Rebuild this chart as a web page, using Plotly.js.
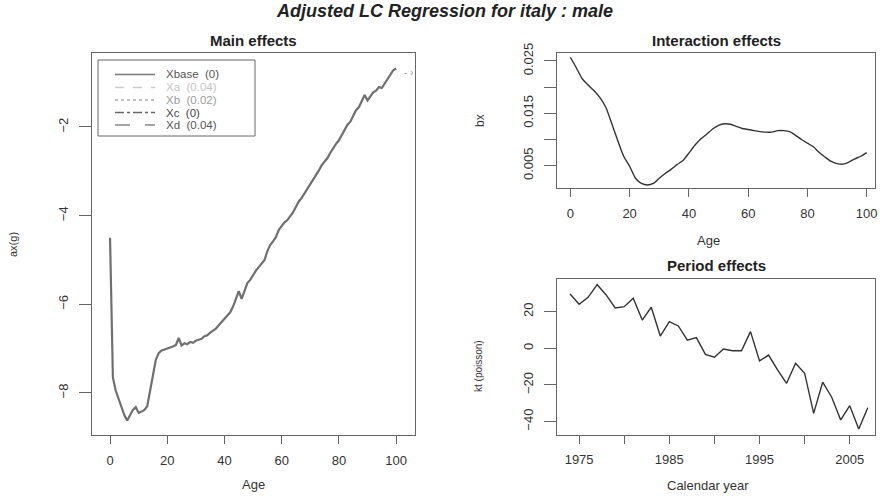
<!DOCTYPE html>
<html>
<head>
<meta charset="utf-8">
<script src="https://cdn.plot.ly/plotly-3.0.1.min.js"></script>
<style>html,body{margin:0;padding:0;background:#fff;}#chart{width:888px;height:496px;}</style>
</head>
<body>
<div id="chart"></div>
<script>
// ---------- data ----------
const ages = [];
for (let a = 0; a <= 100; a++) ages.push(a);
const ax = [-4.50,-7.65,-7.95,-8.15,-8.35,-8.50,-8.62,-8.50,-8.38,-8.32,
  -8.45,-8.42,-8.38,-8.30,-7.95,-7.55,-7.25,-7.10,-7.04,-7.02,
  -7.00,-6.98,-6.95,-6.92,-6.76,-6.93,-6.88,-6.90,-6.85,-6.87,
  -6.82,-6.80,-6.78,-6.72,-6.70,-6.64,-6.60,-6.55,-6.47,-6.40,
  -6.32,-6.26,-6.18,-6.05,-5.85,-5.70,-5.88,-5.70,-5.52,-5.45,
  -5.33,-5.24,-5.16,-5.08,-5.00,-4.80,-4.66,-4.58,-4.48,-4.32,
  -4.24,-4.15,-4.10,-4.02,-3.92,-3.80,-3.68,-3.60,-3.50,-3.40,
  -3.30,-3.18,-3.08,-2.98,-2.86,-2.78,-2.70,-2.58,-2.47,-2.38,
  -2.30,-2.18,-2.05,-1.95,-1.88,-1.75,-1.62,-1.55,-1.42,-1.28,
  -1.40,-1.30,-1.22,-1.18,-1.10,-1.12,-1.02,-0.95,-0.85,-0.72,-0.68];

const bxAges = [0,2,4,6,8,10,12,14,16,18,20,22,24,26,28,30,32,34,36,38,40,42,44,46,48,50,
  52,54,56,58,60,62,64,66,68,70,72,74,76,78,80,82,84,86,88,90,92,94,96,98,100];
const bx = [0.0257,0.0237,0.0216,0.0204,0.0193,0.0180,0.0161,0.0130,0.0098,0.0068,
  0.0049,0.0026,0.0016,0.0013,0.0016,0.0026,0.0035,0.0043,0.0052,0.0060,
  0.0074,0.0089,0.0101,0.0110,0.0120,0.0127,0.0130,0.0129,0.0125,0.0121,
  0.0119,0.0117,0.0115,0.0114,0.0114,0.0117,0.0117,0.0115,0.0108,0.0100,
  0.0093,0.0086,0.0075,0.0066,0.0058,0.0054,0.0053,0.0057,0.0063,0.0068,0.0075];

const years = [1974,1975,1976,1977,1978,1979,1980,1981,1982,1983,1984,1985,1986,1987,1988,1989,1990,
  1991,1992,1993,1994,1995,1996,1997,1998,1999,2000,2001,2002,2003,2004,2005,2006,2007];
const kt = [29.6,24.0,27.8,34.7,29.1,22.0,22.7,27.3,15.4,22.4,6.7,14.5,12.2,4.4,5.8,-3.3,-4.9,
  -0.4,-1.3,-1.3,9.1,-6.9,-3.7,-11.8,-19.1,-8.2,-13.6,-35.5,-18.5,-26.7,-39.1,-31.3,-44.0,-32.4];

const legendLabels = ["Xbase  (0)","Xa  (0.04)","Xb  (0.02)","Xc  (0)","Xd  (0.04)"];
const ageTicks = [0,20,40,60,80,100];
const axTicks = [-8,-6,-4,-2];
const bxTicks = [0.005,0.010,0.015,0.020,0.025];
const bxTickText = ["0.005","","0.015","","0.025"];
const ktTicks = [-40,-20,0,20];
const yearTicks = [1975,1980,1985,1990,1995,2000,2005];
const yearTickText = ["1975","","1985","","1995","","2005"];

// ---------- layout helpers ----------
const W = 888, H = 496;
const px = x => x / W;
const py = y => 1 - y / H;
const FONT = "Liberation Sans, Arial, Helvetica, sans-serif";

const traces = [
  {x: ages, y: ax, type: "scatter", mode: "lines", xaxis: "x", yaxis: "y",
   line: {color: "#6f6f6f", width: 2.2}, hoverinfo: "skip"},
  {x: bxAges, y: bx, type: "scatter", mode: "lines", xaxis: "x2", yaxis: "y2",
   line: {color: "#333", width: 1.4, shape: "spline", smoothing: 0.6}, hoverinfo: "skip"},
  {x: years, y: kt, type: "scatter", mode: "lines", xaxis: "x3", yaxis: "y3",
   line: {color: "#333", width: 1.4}, hoverinfo: "skip"}
];

const axBase = {
  showgrid: false, zeroline: false, showline: true, mirror: true,
  linecolor: "#666", linewidth: 1, ticks: "outside", tickcolor: "#666",
  tickwidth: 1, tickfont: {family: FONT, size: 13, color: "#333"},
  fixedrange: true
};
const xBase = Object.assign({}, axBase, {ticklen: 8, ticklabelstandoff: 5});
const yBase = Object.assign({}, axBase, {ticklen: 12, tickangle: -90, ticklabelstandoff: 6});

const layout = {
  width: W, height: H,
  margin: {l: 0, r: 0, t: 0, b: 0},
  paper_bgcolor: "#fff", plot_bgcolor: "#fff",
  showlegend: false,
  font: {family: FONT, color: "#333"},
  xaxis: Object.assign({}, xBase, {domain: [px(92.3), px(415)], range: [-6.2, 106.6],
    tickvals: ageTicks, anchor: "y"}),
  yaxis: Object.assign({}, yBase, {domain: [py(435), py(53)], range: [-8.948, -0.331],
    tickvals: axTicks, anchor: "x"}),
  xaxis2: Object.assign({}, xBase, {domain: [px(557), px(875)], range: [-4.5, 102.8],
    tickvals: ageTicks, anchor: "y2"}),
  yaxis2: Object.assign({}, yBase, {domain: [py(188), py(53)], range: [0.00074, 0.02651],
    tickvals: bxTicks, ticktext: bxTickText, anchor: "x2"}),
  xaxis3: Object.assign({}, xBase, {domain: [px(557), px(875)], range: [1972.55, 2007.8],
    tickvals: yearTicks, ticktext: yearTickText, anchor: "y3"}),
  yaxis3: Object.assign({}, yBase, {domain: [py(434.5), py(279.3)], range: [-47.03, 37.64],
    tickvals: ktTicks, anchor: "x3"}),
  annotations: [],
  shapes: []
};

function txt(text, x, y, opts) {
  layout.annotations.push(Object.assign({
    text: text, x: px(x), y: py(y), xref: "paper", yref: "paper",
    showarrow: false, xanchor: "center", yanchor: "middle",
    font: {family: FONT, size: 13, color: "#333"}
  }, opts || {}));
}

// main title and panel titles
txt("<b><i>Adjusted LC Regression for italy : male</i></b>", 444, 11, {font: {family: FONT, size: 18, color: "#222"}});
txt("<b>Main effects</b>", 253.6, 40, {font: {family: FONT, size: 15, color: "#222"}});
txt("<b>Interaction effects</b>", 716, 40, {font: {family: FONT, size: 15, color: "#222"}});
txt("<b>Period effects</b>", 716, 265, {font: {family: FONT, size: 15, color: "#222"}});

// axis titles
txt("Age", 253.6, 484);
txt("Age", 708, 240);
txt("Calendar year", 708, 485);
txt("ax(g)", 13, 245, {textangle: -90, font: {family: FONT, size: 11, color: "#333"}});
txt("bx", 480, 121, {textangle: -90, font: {family: FONT, size: 12, color: "#333"}});
txt("kt (poisson)", 478, 366, {textangle: -90, font: {family: FONT, size: 10, color: "#333"}});

// small end-marker next to the main curve
layout.annotations.push({text: "- ›", x: 104.5, y: -0.78, xref: "x", yref: "y", showarrow: false,
  font: {family: FONT, size: 10, color: "#999"}});

// legend box drawn manually
layout.shapes.push({type: "rect", xref: "paper", yref: "paper",
  x0: px(98), x1: px(255), y0: py(136), y1: py(60),
  line: {color: "#666", width: 1}, fillcolor: "rgba(0,0,0,0)"});
const legRows = [74.5, 87.5, 100, 112.5, 125];
const legDash = ["solid", "dash", "dot", "dashdot", "longdash"];
const legLineColor = ["#777", "#ccc", "#aaa", "#666", "#888"];
const legTextColor = ["#555", "#c4c4c4", "#999", "#444", "#555"];
legendLabels.forEach((lab, i) => {
  layout.shapes.push({type: "line", xref: "paper", yref: "paper",
    x0: px(115), x1: px(155), y0: py(legRows[i]), y1: py(legRows[i]),
    line: {color: legLineColor[i], width: 1.3, dash: legDash[i]}});
  txt(lab, 164, legRows[i], {xanchor: "left", font: {family: FONT, size: 11.5, color: legTextColor[i]}});
});

Plotly.newPlot("chart", traces, layout, {staticPlot: true, displayModeBar: false});
</script>
</body>
</html>
